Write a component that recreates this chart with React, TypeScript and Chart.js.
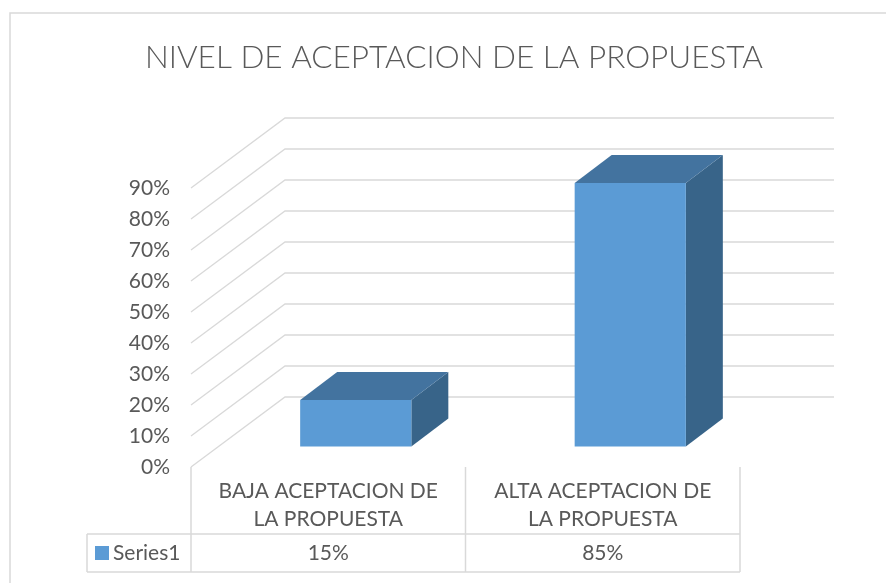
import React, { useEffect, useRef } from 'react';
import { Chart, registerables } from 'chart.js';

Chart.register(...registerables);

// ---- data ----
const TITLE = 'NIVEL DE ACEPTACION DE LA PROPUESTA';
const categories: string[][] = [
  ['BAJA ACEPTACION DE', 'LA PROPUESTA'],
  ['ALTA ACEPTACION DE', 'LA PROPUESTA'],
];
const seriesName = 'Series1';
const seriesValues: number[] = [0.15, 0.85];
const tableLabels: string[] = ['15%', '85%'];
const yTickValues: number[] = [0, 0.1, 0.2, 0.3, 0.4, 0.5, 0.6, 0.7, 0.8, 0.9];

// ---- styles ----
const FONT = 'Lato, "Open Sans", sans-serif';
const TEXT = '#595959';
const GRID = '#d9d9d9';
const FRONT = '#5b9bd5';
const TOP = '#43739f';
const SIDE = '#386489';

const WALL = { dx: 94, dy: -70 };
const BAR_OFF = { dx: 27.5, dy: -20.5 };
const BAR_DEPTH = { dx: 37, dy: -28 };

const threeD = {
  id: 'threeD',
  beforeDraw(chart: any) {
    const ctx = chart.ctx;
    ctx.save();
    ctx.fillStyle = '#ffffff';
    ctx.fillRect(0, 0, chart.width, chart.height);
    ctx.strokeStyle = GRID;
    ctx.lineWidth = 1.5;
    ctx.beginPath();
    ctx.moveTo(10, chart.height);
    ctx.lineTo(10, 13);
    ctx.lineTo(chart.width, 13);
    ctx.stroke();
    ctx.restore();
  },
  beforeDatasetsDraw(chart: any) {
    const ctx = chart.ctx;
    const { left, right } = chart.chartArea;
    const y = chart.scales.y;
    ctx.save();
    ctx.strokeStyle = GRID;
    ctx.lineWidth = 1.3;
    yTickValues.forEach((v) => {
      const py = y.getPixelForValue(v);
      ctx.beginPath();
      ctx.moveTo(left, py);
      ctx.lineTo(left + WALL.dx, py + WALL.dy);
      ctx.lineTo(right + WALL.dx, py + WALL.dy);
      ctx.stroke();
    });
    ctx.restore();
  },
  beforeDatasetDraw() {
    return false;
  },
  afterDatasetsDraw(chart: any) {
    const ctx = chart.ctx;
    const meta = chart.getDatasetMeta(0);
    ctx.save();
    meta.data.forEach((el: any) => {
      const p = el.getProps(['x', 'y', 'base', 'width'], true);
      const L = p.x - p.width / 2 + BAR_OFF.dx;
      const R = p.x + p.width / 2 + BAR_OFF.dx;
      const T = p.y + BAR_OFF.dy;
      const B = p.base + BAR_OFF.dy;
      const dx = BAR_DEPTH.dx;
      const dy = BAR_DEPTH.dy;
      ctx.fillStyle = SIDE;
      ctx.beginPath();
      ctx.moveTo(R, T);
      ctx.lineTo(R + dx, T + dy);
      ctx.lineTo(R + dx, B + dy);
      ctx.lineTo(R, B);
      ctx.closePath();
      ctx.fill();
      ctx.fillStyle = TOP;
      ctx.beginPath();
      ctx.moveTo(L, T);
      ctx.lineTo(R, T);
      ctx.lineTo(R + dx, T + dy);
      ctx.lineTo(L + dx, T + dy);
      ctx.closePath();
      ctx.fill();
      ctx.fillStyle = FRONT;
      ctx.fillRect(L, T, R - L, B - T);
    });
    ctx.restore();
  },
  afterDraw(chart: any) {
    const ctx = chart.ctx;
    const { left, right, bottom } = chart.chartArea;
    const x = chart.scales.x;
    const rowTop = 534;
    const rowBottom = 572;
    const tableLeft = 87;
    ctx.save();
    ctx.strokeStyle = GRID;
    ctx.lineWidth = 1.5;
    const bounds: number[] = [left];
    for (let i = 0; i < categories.length; i++) {
      const c = x.getPixelForValue(i);
      const next = i + 1 < categories.length ? (c + x.getPixelForValue(i + 1)) / 2 : right;
      bounds.push(next);
    }
    ctx.beginPath();
    bounds.forEach((bx) => {
      ctx.moveTo(bx, bottom);
      ctx.lineTo(bx, rowBottom);
    });
    ctx.moveTo(tableLeft, rowTop);
    ctx.lineTo(tableLeft, rowBottom);
    ctx.moveTo(tableLeft, rowTop);
    ctx.lineTo(right, rowTop);
    ctx.moveTo(tableLeft, rowBottom);
    ctx.lineTo(right, rowBottom);
    ctx.stroke();
    const midY = (rowTop + rowBottom) / 2;
    ctx.fillStyle = FRONT;
    ctx.fillRect(95, midY - 7, 14, 14);
    ctx.fillStyle = TEXT;
    ctx.font = `21px ${FONT}`;
    ctx.textBaseline = 'middle';
    ctx.textAlign = 'left';
    ctx.fillText(seriesName, 113, midY);
    ctx.textAlign = 'center';
    tableLabels.forEach((t, i) => {
      ctx.fillText(t, x.getPixelForValue(i), midY);
    });
    ctx.restore();
  },
};

export default function App() {
  const ref = useRef<HTMLCanvasElement | null>(null);
  useEffect(() => {
    if (!ref.current) return;
    const chart = new Chart(ref.current, {
      type: 'bar',
      data: {
        labels: categories as any,
        datasets: [
          {
            label: seriesName,
            data: seriesValues,
            backgroundColor: FRONT,
            categoryPercentage: 1,
            barPercentage: 0.405,
            yAxisID: 'y',
          },
        ],
      },
      options: {
        responsive: false,
        animation: false,
        events: [],
        layout: { padding: { left: 22, right: 0, top: 0, bottom: 0 } },
        plugins: {
          legend: { display: false },
          tooltip: { enabled: false },
          title: {
            display: true,
            text: TITLE,
            color: TEXT,
            font: { family: FONT, size: 31.5, weight: 300 as any, lineHeight: 1.2 },
            padding: { top: 39, bottom: 111.2 },
          },
        },
        scales: {
          x: {
            type: 'category',
            grid: { display: false, drawTicks: false },
            border: { display: false },
            ticks: {
              color: TEXT,
              font: { family: FONT, size: 21, lineHeight: 1.3 },
              padding: 11,
              maxRotation: 0,
              autoSkip: false,
            },
            afterFit(scale: any) {
              scale.height = 116;
            },
          },
          y: {
            type: 'linear',
            position: 'left',
            min: 0,
            max: 0.9,
            grid: { display: false, drawTicks: false },
            border: { display: false },
            afterBuildTicks(scale: any) {
              scale.ticks = yTickValues.map((v) => ({ value: v }));
            },
            ticks: {
              color: TEXT,
              font: { family: FONT, size: 21 },
              padding: 21,
              callback: (v: any) => `${Math.round(Number(v) * 100)}%`,
            },
            afterFit(scale: any) {
              scale.width = 169;
            },
          },
          y2: {
            type: 'linear',
            position: 'right',
            display: true,
            grid: { display: false, drawTicks: false },
            border: { display: false },
            ticks: { display: false },
            afterFit(scale: any) {
              scale.width = 146;
            },
          },
        },
      },
      plugins: [threeD],
    });
    return () => chart.destroy();
  }, []);
  return (
    <div style={{ position: 'fixed', left: 0, top: 0, width: 886, height: 583 }}>
      <canvas ref={ref} width={886} height={583} style={{ display: 'block' }} />
    </div>
  );
}
